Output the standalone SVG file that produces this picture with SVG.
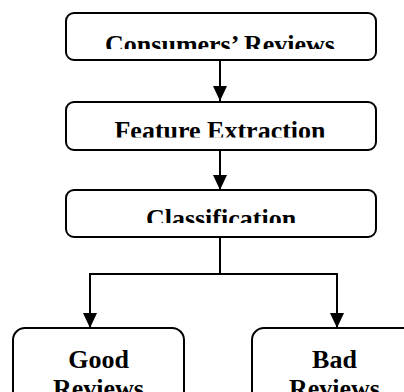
<svg xmlns="http://www.w3.org/2000/svg" width="404" height="392" viewBox="0 0 404 392">
  <style>
    .box { fill: #ffffff; stroke: #000000; stroke-width: 2; }
    .lbl { font-family: "Liberation Serif", "Times New Roman", serif; font-weight: bold; font-size: 26px; fill: #000000; text-anchor: middle; }
    .conn { fill: none; stroke: #000000; stroke-width: 2; }
  </style>
  <defs>
    <marker id="arrow" markerUnits="userSpaceOnUse" markerWidth="16" markerHeight="16" viewBox="0 0 16 16" refX="15" refY="8" orient="auto">
      <path d="M0,1 L15,8 L0,15 Z" fill="#000000"/>
    </marker>
    <clipPath id="c1"><rect x="66" y="13" width="310" height="36"/></clipPath>
    <clipPath id="c2"><rect x="66" y="102" width="310" height="35.5"/></clipPath>
    <clipPath id="c3"><rect x="66" y="190" width="310" height="33"/></clipPath>
  </defs>
  <rect width="404" height="392" fill="#ffffff"/>

  <g id="connectors">
    <line class="conn" x1="220" y1="60" x2="220" y2="101" marker-end="url(#arrow)"/>
    <line class="conn" x1="220" y1="150" x2="220" y2="190" marker-end="url(#arrow)"/>
    <polyline class="conn" points="220,237 220,274 90,274 90,328" marker-end="url(#arrow)"/>
    <polyline class="conn" points="220,274 337,274 337,328" marker-end="url(#arrow)"/>
  </g>

  <g id="node-consumers-reviews">
    <rect class="box" x="66" y="13" width="310" height="47" rx="8"/>
    <text class="lbl" x="220" y="53" clip-path="url(#c1)">Consumers’ Reviews</text>
  </g>

  <g id="node-feature-extraction">
    <rect class="box" x="66" y="102" width="310" height="48" rx="8"/>
    <text class="lbl" x="220" y="139" clip-path="url(#c2)">Feature Extraction</text>
  </g>

  <g id="node-classification">
    <rect class="box" x="66" y="190" width="310" height="47" rx="8"/>
    <text class="lbl" x="221" y="227" clip-path="url(#c3)">Classification</text>
  </g>

  <g id="node-good-reviews">
    <rect class="box" x="13" y="328" width="171" height="90" rx="12"/>
    <text class="lbl" x="98.5" y="368">Good</text>
    <text class="lbl" x="98.5" y="397">Reviews</text>
  </g>

  <g id="node-bad-reviews">
    <rect class="box" x="252" y="328" width="171" height="90" rx="12"/>
    <text class="lbl" x="334.5" y="368">Bad</text>
    <text class="lbl" x="334.5" y="397">Reviews</text>
  </g>
</svg>
